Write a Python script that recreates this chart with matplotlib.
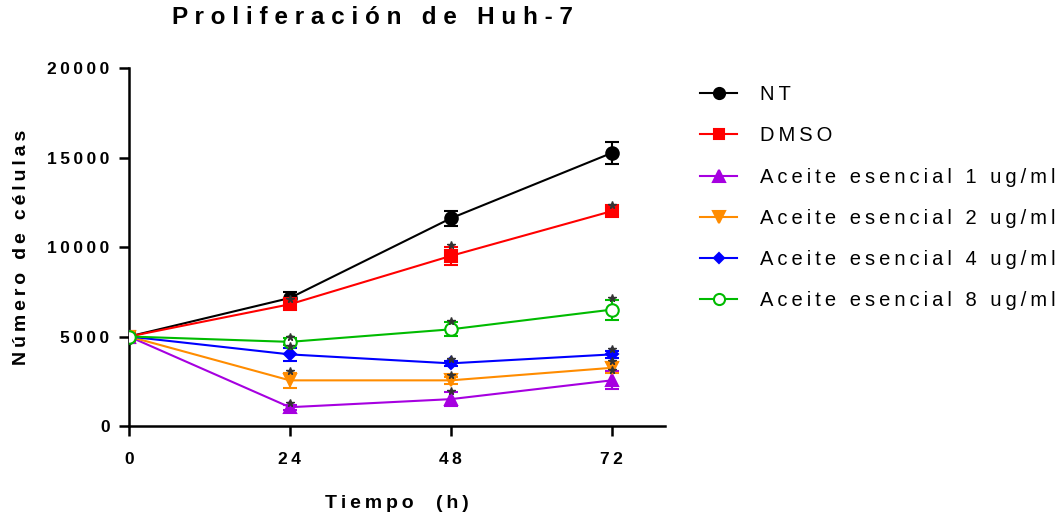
import numpy as np
import matplotlib.pyplot as plt
from matplotlib.lines import Line2D

plt.rcParams['font.family'] = ['Liberation Sans', 'DejaVu Sans']

horas = [0, 24, 48, 72]
etiquetas = ['NT', 'DMSO', 'Aceite esencial 1 ug/ml', 'Aceite esencial 2 ug/ml',
             'Aceite esencial 4 ug/ml', 'Aceite esencial 8 ug/ml']

nt = [5000, 7150, 11600, 15250]
nt_err = [0, 360, 420, 620]
dmso = [5000, 6800, 9500, 12000]
dmso_err = [0, 180, 500, 250]
ae1 = [5000, 1050, 1500, 2550]
ae1_err = [0, 150, 380, 500]
ae2 = [5000, 2550, 2550, 3250]
ae2_err = [0, 420, 180, 300]
ae4 = [5000, 4000, 3500, 4000]
ae4_err = [0, 370, 150, 200]
ae8 = [5000, 4700, 5400, 6500]
ae8_err = [0, 200, 390, 560]

series = [nt, dmso, ae1, ae2, ae4, ae8]
errores = [nt_err, dmso_err, ae1_err, ae2_err, ae4_err, ae8_err]
colores = ['black', '#FF0000', '#A600E0', '#FF8C00', '#0000FF', '#00BB00']
marcadores = ['o', 's', '^', 'v', 'D', 'o']
tamanos = [9, 8, 9, 9, 6, 9]
# asterisco de significancia sobre cada tratamiento (no en NT)
asterisco = [False, True, True, True, True, True]


def espaciado(texto, sep='\u2009'):
    return sep.join(texto)


fig = plt.figure(figsize=(10.64, 5.14), dpi=100)
ax = fig.add_axes([0.1212, 0.1712, 0.504, 0.6965])

handles = []
for i in range(len(series)):
    cara = 'white' if i == 5 else colores[i]
    ax.errorbar(horas, series[i], yerr=errores[i], color=colores[i],
                marker=marcadores[i], markersize=tamanos[i], lw=1.5,
                capsize=5, capthick=1.5, elinewidth=1.5,
                markerfacecolor=cara, markeredgewidth=1.5, zorder=3)
    handles.append(Line2D([], [], color=colores[i], marker=marcadores[i],
                          markersize=tamanos[i] - 1, markerfacecolor=cara,
                          markeredgewidth=1.5, lw=1.5))
    if asterisco[i]:
        tope = np.array(series[i][1:]) + np.array(errores[i][1:]) + 100
        ax.plot(horas[1:], tope, ls='none', marker='*', markersize=5.5,
                color='#333333', zorder=4)

ax.set_xlim(0, 80)
ax.set_ylim(0, 20000)
ax.set_xticks([0, 24, 48, 72])
ax.set_yticks([0, 5000, 10000, 15000, 20000])
ax.set_yticklabels([espaciado(str(v)) for v in [0, 5000, 10000, 15000, 20000]],
                   fontweight='bold', fontsize=12.5)
ax.set_xticklabels([espaciado(str(v)) for v in [0, 24, 48, 72]],
                   fontweight='bold', fontsize=12.5)
ax.spines['top'].set_visible(False)
ax.spines['right'].set_visible(False)
ax.spines['left'].set_linewidth(1.8)
ax.spines['bottom'].set_linewidth(1.8)
ax.tick_params(width=1.8, length=7)
ax.tick_params(axis='y', pad=7)
ax.tick_params(axis='x', pad=12)

ax.set_xlabel(espaciado('Tiempo  (h)'), fontweight='bold', fontsize=14, labelpad=20)
ax.set_ylabel(espaciado('Número de células'), fontweight='bold', fontsize=14, labelpad=12)
fig.text(0.35, 0.965, espaciado('Proliferación de Huh-7', ' '), ha='center',
         va='center', fontweight='bold', fontsize=17.5)

fig.legend(handles, [espaciado(t) for t in etiquetas], loc='upper left',
           bbox_to_anchor=(0.658, 0.834), frameon=False, fontsize=14.5,
           borderpad=0, borderaxespad=0, labelspacing=1.1,
           handlelength=1.85, handletextpad=1.1)

fig.savefig('out.png', dpi=100)
